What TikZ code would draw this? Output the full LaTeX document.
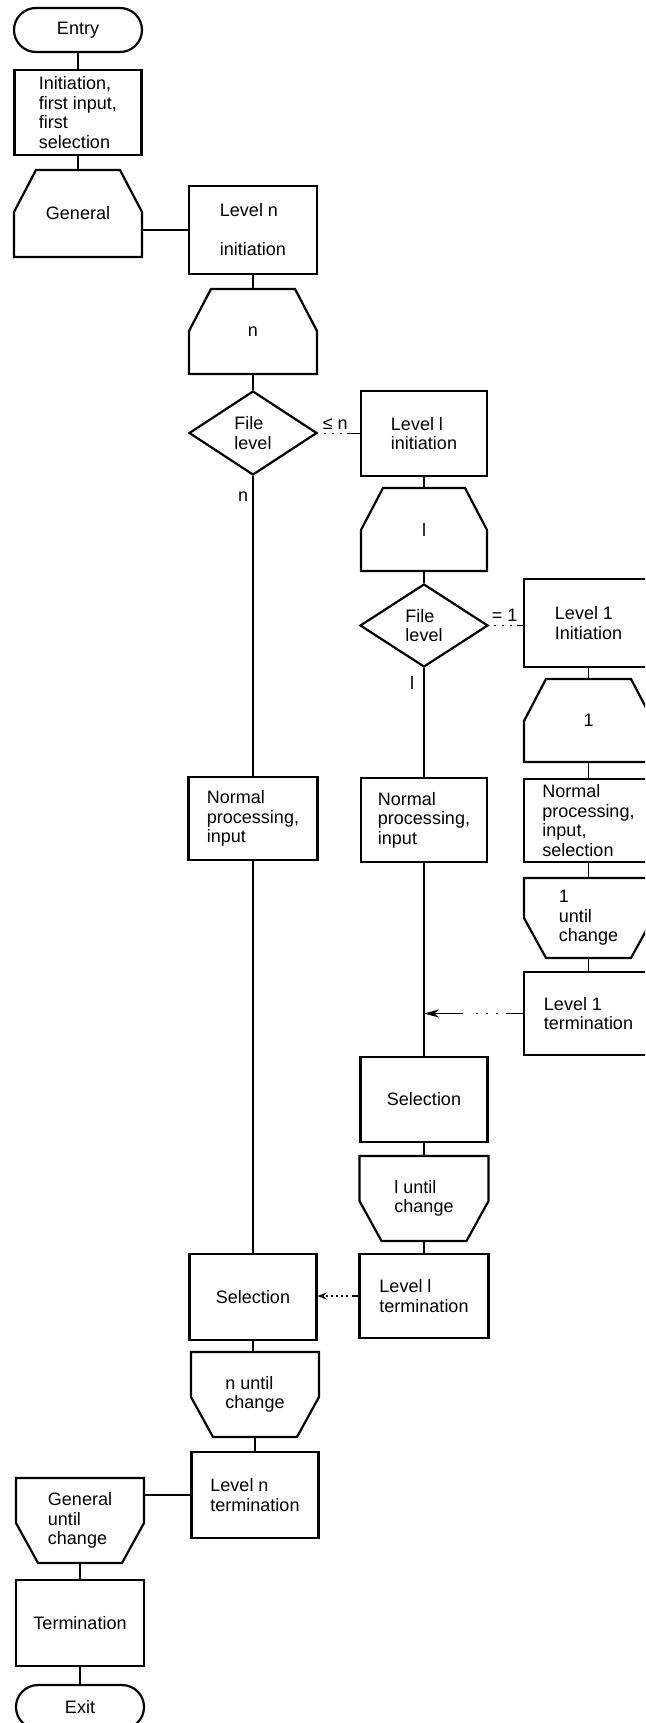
\documentclass[tikz,border=0pt]{standalone}
\usepackage{fontspec}
\setmainfont{Liberation Sans}
\usetikzlibrary{shapes.geometric,arrows.meta}
\tikzset{
  every node/.style={font=\fontsize{18}{19.5}\selectfont, inner sep=0pt},
  conn/.style={line width=1.9pt},
  procbox/.style={draw, line width=2.2pt, rectangle, minimum width=127pt, minimum height=85pt, align=left},
  terminal/.style={draw, line width=2.2pt, rectangle, rounded corners=22pt, minimum width=128pt, minimum height=44pt},
  decision/.style={draw, line width=2.2pt, diamond, aspect=1.5, minimum width=128pt, minimum height=84pt, align=left},
  loopstart/.style={rectangle, outer sep=0pt, minimum width=128pt, minimum height=85pt, align=left,
    append after command={\pgfextra{\begin{pgfinterruptpath}
      \draw[line width=2.2pt, line join=miter]
        (\tikzlastnode.south west) -- ([yshift=-42pt]\tikzlastnode.north west)
        -- ([xshift=22pt]\tikzlastnode.north west) -- ([xshift=-22pt]\tikzlastnode.north east)
        -- ([yshift=-42pt]\tikzlastnode.north east) -- (\tikzlastnode.south east) -- cycle;
    \end{pgfinterruptpath}}}},
  loopend/.style={rectangle, outer sep=0pt, minimum width=128pt, minimum height=85pt, align=left,
    append after command={\pgfextra{\begin{pgfinterruptpath}
      \draw[line width=2.2pt, line join=miter]
        (\tikzlastnode.north west) -- (\tikzlastnode.north east)
        -- ([yshift=40pt]\tikzlastnode.south east) -- ([xshift=-22pt]\tikzlastnode.south east)
        -- ([xshift=22pt]\tikzlastnode.south west) -- ([yshift=40pt]\tikzlastnode.south west) -- cycle;
    \end{pgfinterruptpath}}}}
}
\begin{document}
\begin{tikzpicture}[x=1pt,y=-1pt]
\useasboundingbox (0,0) rectangle (645,1723);
\clip (0,0) rectangle (645,1723);
\fill[white] (0,0) rectangle (645,1723);

% left column (top)
\node[terminal] (entry) at (78,30) {Entry};
\node[procbox] (init) at (78,112.5) {Initiation,\\first input,\\first\\selection};
\node[loopstart, minimum height=87pt] (general) at (78,213.5) {General};

% column B
\node[procbox, minimum height=88pt, minimum width=128pt] (levn) at (253,230) {Level n\\[19.5pt]initiation};
\node[loopstart] (nshape) at (253,331.5) {n};
\node[decision] (dia1) at (253,433) {File\\level};
\node[procbox, minimum height=83pt, minimum width=129pt] (normL) at (253,818.5) {Normal\\processing,\\input};
\node[procbox, minimum height=86pt] (selL) at (253,1297) {Selection};
\node[loopend] (nuntil) at (255,1394.5) {n until\\change};
\node[procbox, minimum height=86pt] (levnterm) at (255,1495) {Level n\\termination};

% left column (bottom)
\node[loopend] (guntil) at (80,1520.5) {General\\until\\change};
\node[procbox, minimum height=86pt, minimum width=128pt] (term) at (80,1623) {Termination};
\node[terminal] (exit) at (80,1707) {Exit};

% column C
\node[procbox, minimum height=85pt, minimum width=126pt] (levl) at (424,433.5) {Level l\\initiation};
\node[loopstart, minimum height=83pt, minimum width=126pt] (lshape) at (424,529.5) {l};
\node[decision, minimum height=83pt] (dia2) at (424,625.5) {File\\level};
\node[procbox, minimum height=84pt, minimum width=126pt] (normM) at (424,820) {Normal\\processing,\\input};
\node[procbox] (selM) at (424,1099.5) {Selection};
\node[loopend, minimum width=129pt] (luntil) at (424,1198.5) {l until\\change};
\node[procbox, minimum height=84pt, minimum width=129pt] (levlterm) at (424,1296) {Level l\\termination};

% column D
\node[procbox, minimum height=88pt, minimum width=129pt] (lev1) at (588.5,623) {Level 1\\Initiation};
\node[loopstart, minimum height=83pt, minimum width=129pt] (oneshape) at (588.5,720.5) {1};
\node[procbox, minimum height=83pt, minimum width=129pt] (normR) at (588.5,820.5) {Normal\\processing,\\input,\\selection};
\node[loopend, minimum height=80pt, minimum width=129pt] (oneuntil) at (588.5,918) {1\\until\\change};
\node[procbox, minimum height=83pt, minimum width=129pt] (lev1term) at (588.5,1013.5) {Level 1\\termination};

% connectors left / B
\draw[conn] (entry) -- (init);
\draw[conn] (init) -- (general);
\draw[conn] (levn.west) -- (levn.west -| general.east);
\draw[conn] (levn) -- (nshape);
\draw[conn] (nshape) -- (dia1);
\draw[conn] (dia1.south) -- node[pos=0.07, left=4pt] {n} (normL.north);
\draw[conn] (normL) -- (selL);
\draw[conn] (selL.south) -- (selL.south |- nuntil.north);
\draw[conn] (nuntil.south) -- (nuntil.south |- levnterm.north);
\draw[conn] (levnterm.west) -- (levnterm.west -| guntil.east);
\draw[conn] (guntil) -- (term);
\draw[conn] (term) -- (exit);

% connectors C
\draw[conn, dash pattern=on 13pt off 5pt on 2pt off 6pt on 2pt off 6pt on 2pt off 6pt on 2pt off 6pt on 2pt off 200pt]
  (levl.west) -- node[pos=0.59, above=3pt] {≤ n} (levl.west -| dia1.east);
\draw[conn] (levl) -- (lshape);
\draw[conn] (lshape) -- (dia2);
\draw[conn] (dia2.south) -- node[pos=0.14, left=9pt] {l} (normM.north);
\draw[conn] (normM) -- (selM);
\draw[conn] (selM) -- (luntil);
\draw[conn] (luntil) -- (levlterm);
\draw[conn, dash pattern=on 6pt off 4pt on 2pt off 3pt on 2pt off 3pt on 2pt off 3pt on 2pt off 3pt on 2pt off 3pt on 2pt off 200pt, -{Stealth[length=9pt,width=7pt]}]
  (levlterm.west) -- (levlterm.west -| selL.east);

% connectors D
\draw[conn, dash pattern=on 6pt off 5pt on 2pt off 6pt on 2pt off 6pt on 2pt off 200pt]
  (lev1.west |- dia2.east) -- node[pos=0.54, above=3pt] {= 1} (dia2.east);
\draw[conn] (lev1) -- (oneshape);
\draw[conn] (oneshape) -- (normR);
\draw[conn] (normR) -- (oneuntil);
\draw[conn] (oneuntil) -- (lev1term);
\draw[conn, dash pattern=on 17pt off 8pt on 2pt off 8pt on 2pt off 8pt on 2pt off 13pt on 200pt, -{Stealth[length=15pt,width=8pt]}]
  (lev1term.west) -- (lev1term.west -| normM.south);
\end{tikzpicture}
\end{document}
